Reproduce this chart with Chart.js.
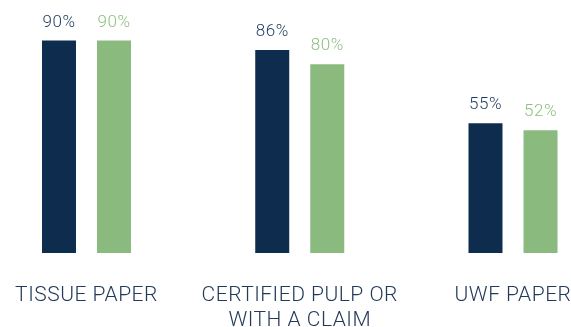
<!DOCTYPE html>
<html>
<head>
<meta charset="utf-8">
<script src="https://cdn.jsdelivr.net/npm/chart.js@4/dist/chart.umd.min.js"></script>
<style>
  html, body { margin: 0; padding: 0; background: #fff; overflow: hidden; }
  canvas { display: block; }
</style>
</head>
<body>
<canvas id="paperChart" width="571" height="327"></canvas>
<script>
// Chart data
const categories = ['TISSUE PAPER', ['CERTIFIED PULP OR', 'WITH A CLAIM'], 'UWF PAPER'];
const seriesA = [90, 86, 55];
const seriesB = [90, 80, 52];

const navy = '#0e2c4e';
const green = '#8bba7f';

// "xx%" above every bar and the category names under the axis
const valueLabels = {
    id: 'valueLabels',
    afterDatasetsDraw(chart) {
        const ctx = chart.ctx;
        ctx.save();
        ctx.letterSpacing = '0.5px';
        ctx.font = '300 17px Roboto';
        ctx.textAlign = 'center';
        ctx.textBaseline = 'alphabetic';
        chart.data.datasets.forEach((ds, i) => {
            const meta = chart.getDatasetMeta(i);
            ctx.fillStyle = ds.labelColor;
            meta.data.forEach((bar, j) => {
                ctx.fillText(ds.data[j] + '%', bar.x, bar.y - 14);
            });
        });

        // category labels
        const xScale = chart.scales.x;
        ctx.font = '300 21px Roboto';
        ctx.fillStyle = '#22395a';
        chart.data.labels.forEach((lbl, i) => {
            const lines = Array.isArray(lbl) ? lbl : [lbl];
            const x = xScale.getPixelForValue(i);
            lines.forEach((line, k) => {
                ctx.fillText(line, x, chart.chartArea.bottom + 47.5 + k * 25);
            });
        });
        ctx.restore();
    }
};

new Chart(document.getElementById('paperChart'), {
    type: 'bar',
    data: {
        labels: categories,
        datasets: [{
            data: seriesA,
            backgroundColor: navy,
            labelColor: '#1d3a5e',
            clip: false,
            categoryPercentage: 0.516,
            barPercentage: 0.618
        }, {
            data: seriesB,
            backgroundColor: green,
            labelColor: '#8cbf80',
            clip: false,
            categoryPercentage: 0.516,
            barPercentage: 0.618
        }]
    },
    options: {
        responsive: false,
        animation: false,
        layout: {
            padding: { left: 86.5, right: 58, top: 17, bottom: 74 }
        },
        scales: {
            x: {
                offset: false,
                grid: { display: false, drawTicks: false },
                border: { display: false },
                ticks: { display: false }
            },
            y: {
                display: false,
                min: 0,
                max: 100
            }
        },
        plugins: {
            legend: { display: false },
            tooltip: { enabled: false }
        }
    },
    plugins: [valueLabels]
});
</script>
</body>
</html>
